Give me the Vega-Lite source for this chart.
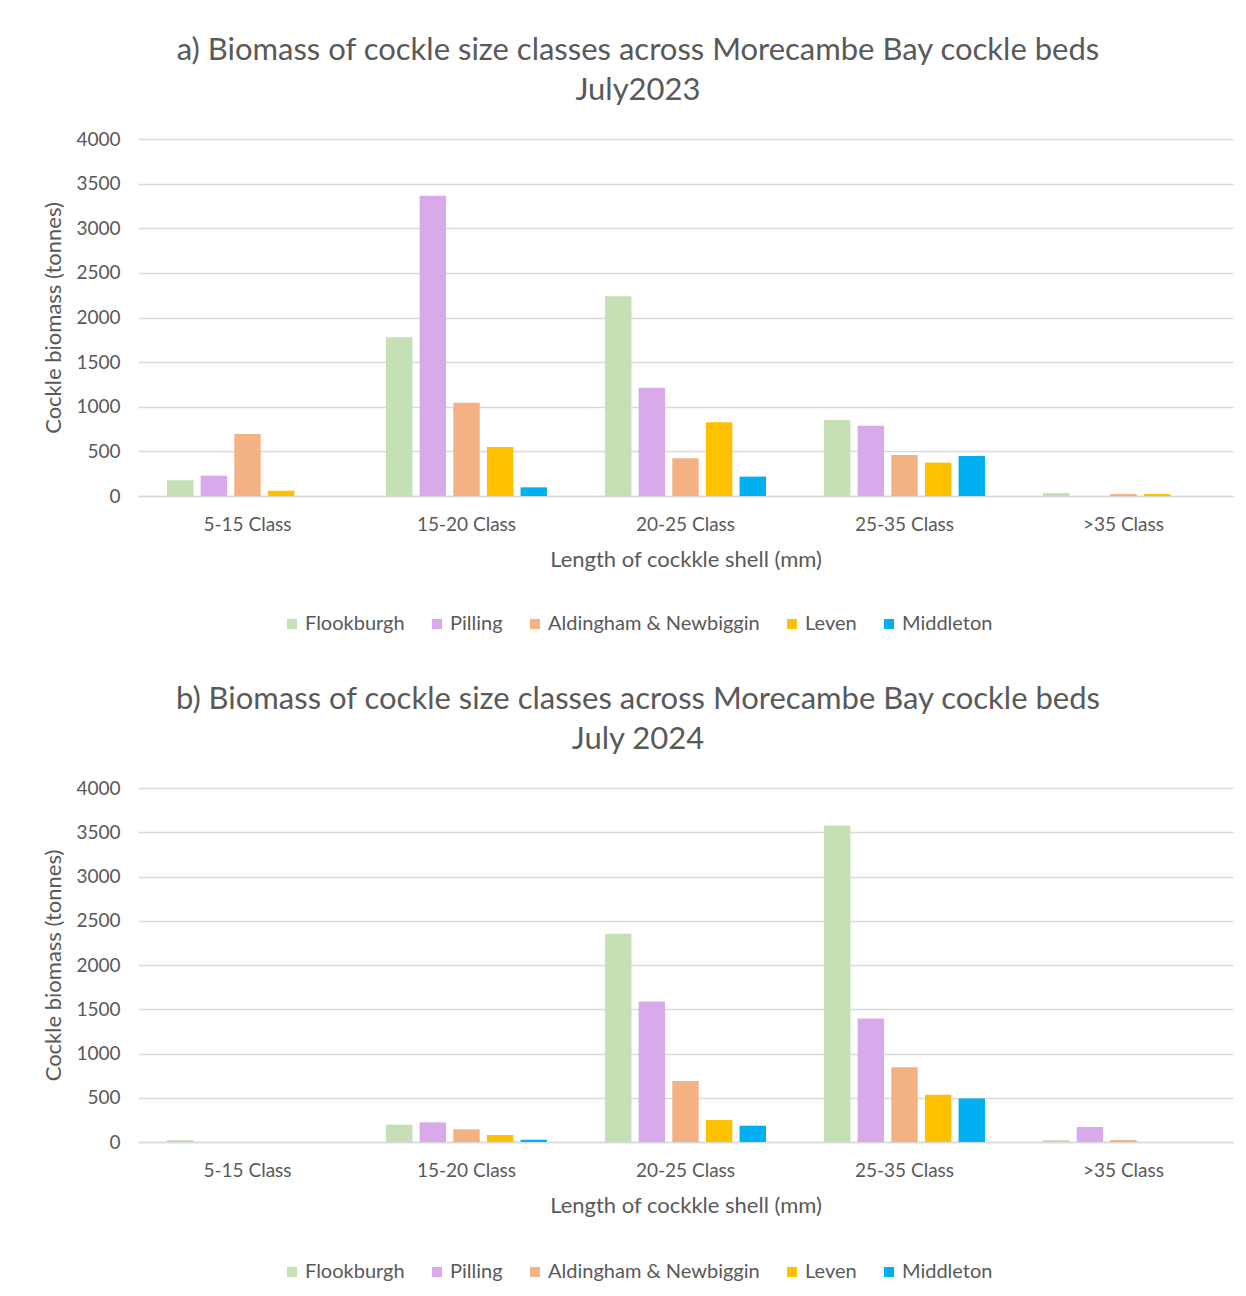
{
  "$schema": "https://vega.github.io/schema/vega-lite/v6.json",
  "background": "white",
  "padding": {"top": 35, "left": 42, "right": 10, "bottom": 5},
  "spacing": 50,
  "datasets": {
    "a": [
      {"cls": "5-15 Class", "site": "Flookburgh", "v": 176},
      {"cls": "5-15 Class", "site": "Pilling", "v": 228},
      {"cls": "5-15 Class", "site": "Aldingham & Newbiggin", "v": 695},
      {"cls": "5-15 Class", "site": "Leven", "v": 60},
      {"cls": "5-15 Class", "site": "Middleton", "v": 0},
      {"cls": "15-20 Class", "site": "Flookburgh", "v": 1780},
      {"cls": "15-20 Class", "site": "Pilling", "v": 3365},
      {"cls": "15-20 Class", "site": "Aldingham & Newbiggin", "v": 1045},
      {"cls": "15-20 Class", "site": "Leven", "v": 549},
      {"cls": "15-20 Class", "site": "Middleton", "v": 97},
      {"cls": "20-25 Class", "site": "Flookburgh", "v": 2237},
      {"cls": "20-25 Class", "site": "Pilling", "v": 1213},
      {"cls": "20-25 Class", "site": "Aldingham & Newbiggin", "v": 422},
      {"cls": "20-25 Class", "site": "Leven", "v": 826},
      {"cls": "20-25 Class", "site": "Middleton", "v": 217},
      {"cls": "25-35 Class", "site": "Flookburgh", "v": 852},
      {"cls": "25-35 Class", "site": "Pilling", "v": 788},
      {"cls": "25-35 Class", "site": "Aldingham & Newbiggin", "v": 459},
      {"cls": "25-35 Class", "site": "Leven", "v": 374},
      {"cls": "25-35 Class", "site": "Middleton", "v": 448},
      {"cls": ">35 Class", "site": "Flookburgh", "v": 34},
      {"cls": ">35 Class", "site": "Pilling", "v": 0},
      {"cls": ">35 Class", "site": "Aldingham & Newbiggin", "v": 22},
      {"cls": ">35 Class", "site": "Leven", "v": 22},
      {"cls": ">35 Class", "site": "Middleton", "v": 0}
    ],
    "b": [
      {"cls": "5-15 Class", "site": "Flookburgh", "v": 22},
      {"cls": "5-15 Class", "site": "Pilling", "v": 0},
      {"cls": "5-15 Class", "site": "Aldingham & Newbiggin", "v": 0},
      {"cls": "5-15 Class", "site": "Leven", "v": 0},
      {"cls": "5-15 Class", "site": "Middleton", "v": 0},
      {"cls": "15-20 Class", "site": "Flookburgh", "v": 195},
      {"cls": "15-20 Class", "site": "Pilling", "v": 222},
      {"cls": "15-20 Class", "site": "Aldingham & Newbiggin", "v": 143},
      {"cls": "15-20 Class", "site": "Leven", "v": 79},
      {"cls": "15-20 Class", "site": "Middleton", "v": 26},
      {"cls": "20-25 Class", "site": "Flookburgh", "v": 2354},
      {"cls": "20-25 Class", "site": "Pilling", "v": 1587},
      {"cls": "20-25 Class", "site": "Aldingham & Newbiggin", "v": 690},
      {"cls": "20-25 Class", "site": "Leven", "v": 248},
      {"cls": "20-25 Class", "site": "Middleton", "v": 184},
      {"cls": "25-35 Class", "site": "Flookburgh", "v": 3575},
      {"cls": "25-35 Class", "site": "Pilling", "v": 1395},
      {"cls": "25-35 Class", "site": "Aldingham & Newbiggin", "v": 845},
      {"cls": "25-35 Class", "site": "Leven", "v": 533},
      {"cls": "25-35 Class", "site": "Middleton", "v": 492},
      {"cls": ">35 Class", "site": "Flookburgh", "v": 22},
      {"cls": ">35 Class", "site": "Pilling", "v": 169},
      {"cls": ">35 Class", "site": "Aldingham & Newbiggin", "v": 22},
      {"cls": ">35 Class", "site": "Leven", "v": 0},
      {"cls": ">35 Class", "site": "Middleton", "v": 0}
    ]
  },
  "config": {
    "font": "Lato",
    "view": {"stroke": null},
    "title": {"fontSize": 31, "fontWeight": "normal", "color": "#595959", "lineHeight": 40, "anchor": "middle", "frame": "bounds", "offset": 23},
    "axis": {"labelFont": "Lato", "labelFontSize": 19, "labelColor": "#595959", "titleFont": "Lato", "titleFontSize": 22, "titleFontWeight": "normal", "titleColor": "#595959", "gridColor": "#d9d9d9", "gridWidth": 1.5, "ticks": false},
    "legend": {"labelFont": "Lato", "labelFontSize": 20, "labelColor": "#595959", "labelLimit": 0}
  },
  "vconcat": [
    {
      "data": {"name": "a"},
      "width": 1095,
      "height": 357,
      "title": {"text": ["a) Biomass of cockle size classes across Morecambe Bay cockle beds", "July2023"]},
      "mark": {"type": "bar"},
      "encoding": {
        "x": {"field": "cls", "type": "nominal", "sort": ["5-15 Class", "15-20 Class", "20-25 Class", "25-35 Class", ">35 Class"],
          "scale": {"paddingInner": 0.265, "paddingOuter": 0.1325},
          "axis": {"title": "Length of cockkle shell (mm)", "labelAngle": 0, "labelPadding": 19, "titlePadding": 15, "domainColor": "#d9d9d9", "domainWidth": 1.5}},
        "xOffset": {"field": "site", "type": "nominal", "sort": ["Flookburgh", "Pilling", "Aldingham & Newbiggin", "Leven", "Middleton"], "scale": {"paddingInner": 0.215, "paddingOuter": 0}},
        "y": {"field": "v", "type": "quantitative", "scale": {"domain": [0, 4000]},
          "axis": {"title": "Cockle biomass (tonnes)", "format": "d", "values": [0, 500, 1000, 1500, 2000, 2500, 3000, 3500, 4000], "domain": false, "labelPadding": 18, "titlePadding": 10}},
        "color": {"field": "site", "type": "nominal", "sort": ["Flookburgh", "Pilling", "Aldingham & Newbiggin", "Leven", "Middleton"],
          "scale": {"domain": ["Flookburgh", "Pilling", "Aldingham & Newbiggin", "Leven", "Middleton"], "range": ["#C5E0B4", "#D9A9E9", "#F4B183", "#FFC000", "#00B0F0"]},
          "legend": {"title": null, "orient": "none", "direction": "horizontal", "legendX": 144, "legendY": 475, "symbolType": "square", "symbolSize": 100, "symbolStrokeWidth": 0, "labelOffset": 3, "columnPadding": 22}}
      }
    },
    {
      "data": {"name": "b"},
      "width": 1095,
      "height": 354,
      "title": {"text": ["b) Biomass of cockle size classes across Morecambe Bay cockle beds", "July 2024"]},
      "mark": {"type": "bar"},
      "encoding": {
        "x": {"field": "cls", "type": "nominal", "sort": ["5-15 Class", "15-20 Class", "20-25 Class", "25-35 Class", ">35 Class"],
          "scale": {"paddingInner": 0.265, "paddingOuter": 0.1325},
          "axis": {"title": "Length of cockkle shell (mm)", "labelAngle": 0, "labelPadding": 19, "titlePadding": 15, "domainColor": "#d9d9d9", "domainWidth": 1.5}},
        "xOffset": {"field": "site", "type": "nominal", "sort": ["Flookburgh", "Pilling", "Aldingham & Newbiggin", "Leven", "Middleton"], "scale": {"paddingInner": 0.215, "paddingOuter": 0}},
        "y": {"field": "v", "type": "quantitative", "scale": {"domain": [0, 4000]},
          "axis": {"title": "Cockle biomass (tonnes)", "format": "d", "values": [0, 500, 1000, 1500, 2000, 2500, 3000, 3500, 4000], "domain": false, "labelPadding": 18, "titlePadding": 10}},
        "color": {"field": "site", "type": "nominal", "sort": ["Flookburgh", "Pilling", "Aldingham & Newbiggin", "Leven", "Middleton"],
          "scale": {"domain": ["Flookburgh", "Pilling", "Aldingham & Newbiggin", "Leven", "Middleton"], "range": ["#C5E0B4", "#D9A9E9", "#F4B183", "#FFC000", "#00B0F0"]},
          "legend": {"title": null, "orient": "none", "direction": "horizontal", "legendX": 144, "legendY": 474, "symbolType": "square", "symbolSize": 100, "symbolStrokeWidth": 0, "labelOffset": 3, "columnPadding": 22}}
      }
    }
  ],
  "resolve": {"scale": {"color": "independent"}, "legend": {"color": "independent"}}
}
